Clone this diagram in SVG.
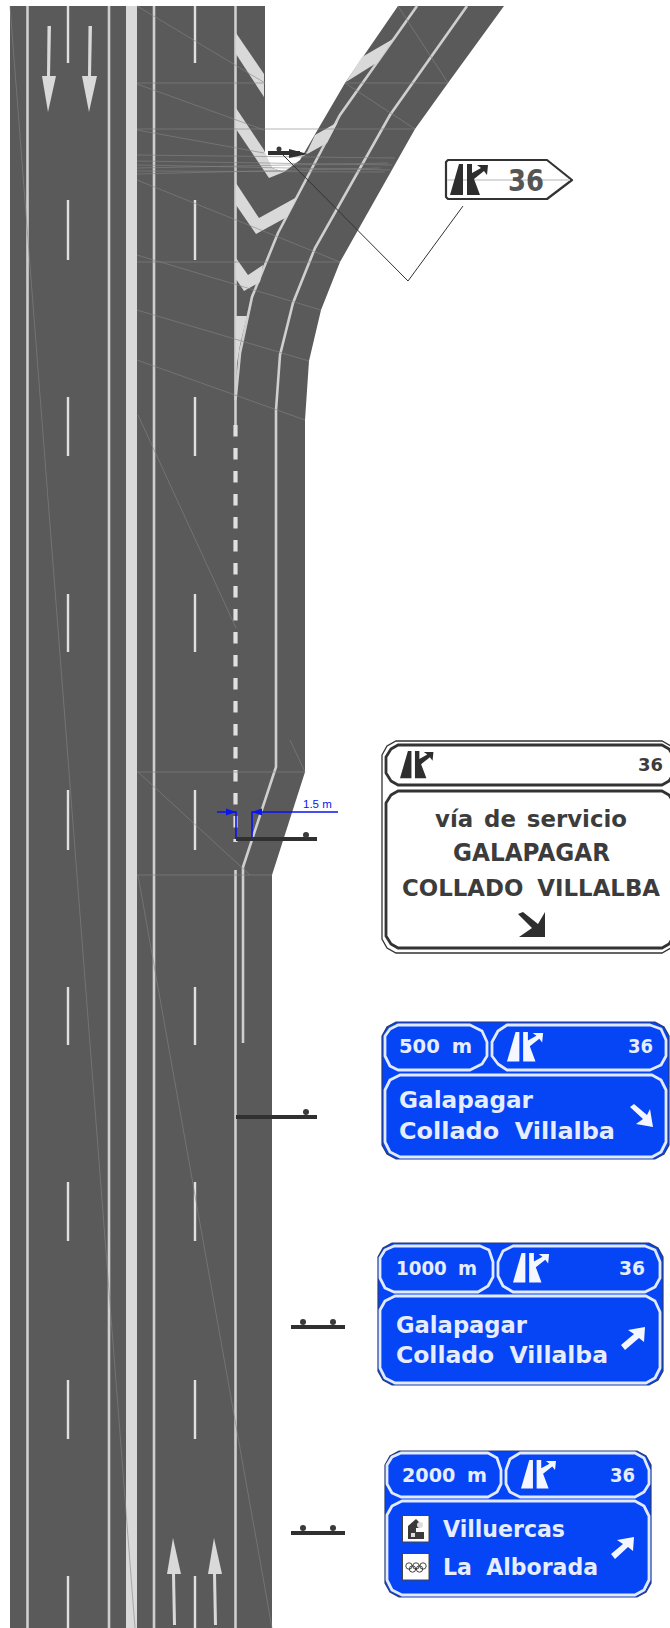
<svg xmlns="http://www.w3.org/2000/svg" width="670" height="1628" viewBox="0 0 670 1628">
<style>
.road{fill:#5a5a5a}
.mk{fill:none;stroke:#cfcfcf;stroke-width:2.6}
.dash{fill:none;stroke:#e0e0e0;stroke-width:2.4}
.paint{fill:#d9d9d9}
.fa{fill:none;stroke:#858585;stroke-width:.6}
.bar{stroke:#303030;stroke-width:4;fill:none}
.dot{fill:#3a3a3a}
.blue{fill:#0545f5;stroke:#2a3a70;stroke-width:1.2}
.pb{fill:none;stroke:#e2eaff;stroke-width:2.8;stroke-linejoin:round}
.wo{fill:#fff;stroke:#333;stroke-width:1.3}
.pw{fill:none;stroke:#333;stroke-width:2.8;stroke-linejoin:round}
.t{font-family:"DejaVu Sans","Liberation Sans",sans-serif;font-weight:700}
.tb{fill:#e6edff}
.td{fill:#3c3c3c}
.dim{fill:none;stroke:#0a14f0;stroke-width:1.6}
.dh{fill:#0a14f0}
.lead{fill:none;stroke:#333;stroke-width:1}
</style>
<defs>
<g id="ic"><polygon points="0,31 13,31 13,0 9,0"/><polygon points="17,0 22,0 22,9 31,4 27,1 38,1 37,11 34,7 24,15 30,31 17,31"/></g>
</defs>
<g id="road">
<polygon class="road" points="10,6 265,6 265,155 272,168 284,172 300,160 345,83 398,6 504,6 448,83 415,129 340,262 321,310 309,361 305,420 305,772 272,875 272,1628 10,1628"/>
<rect class="paint" x="126" y="6" width="11" height="1622"/>
<g class="mk"><path d="M27.500 6V1628M109 6V1628M154 6V1628M235.500 6V425M235.500 870V1628"/>
<path d="M417 6L340 115L278 233L252 297L240 353L235.500 400"/>
<path d="M467 6L390 115L315 248L293 303L280 355L276 410V767L243 867V1043"/></g>
<path class="dash" stroke-dasharray="11.500 11.500" style="stroke-width:4.200" d="M235.500 425V842"/>
<path class="dash" d="M68 6V63M68 200V260M68 397V456M68 594V652M68 790V850M68 987V1045M68 1182V1241M68 1380V1439M68 1576V1628M195 6V63M195 200V260M195 397V456M195 594V652M195 790V850M195 987V1045M195 1182V1241M195 1380V1439M195 1576V1628"/>
<g class="paint">
<polygon points="236,33 264,74 264,97 236,54"/>
<polygon points="393,39 378,62 346,82 362,57"/>
<polygon points="236,108 264,150 272,168 284,172 269,178 236,129"/>
<polygon points="338,122 327,143 300,158 307,152 315,135"/>
<polygon points="236,183 259,218 297,197 287,217 256,234 236,205"/>
<polygon points="236,258 248,275 263,265 260,282 244,291 236,279"/>
<polygon points="236,316 247,316 240,345 236,370"/>
<polygon points="42,76 56,76 48,112"/><polygon points="82,76 97,76 89,112"/>
<polygon points="47.500,26 51,26 50,76 47,76"/><polygon points="88.500,26 92,26 91,76 88,76"/>
<polygon points="173,1538 167,1574 181,1574"/><polygon points="214,1538 208,1574 222,1574"/>
<polygon points="172,1574 175,1574 176,1625 173,1625"/><polygon points="213,1574 216,1574 217,1625 214,1625"/>
</g>
<g class="fa">
<path d="M137 83H265M345 83H448M137 129H415M137 262H340M137 772H305M137 875H272"/>
<path d="M137 6L265 83M137 84L264 130M137 130L264 153M137 180L340 262M137 255L321 310M137 310L309 361M137 360L305 420M138 415L236 628M138 772L250 875M138 875L272 1628M10 6L135 1628M398 6L448 83M345 83L415 129M290 740L305 772"/>
<path d="M137 155L395 158M137 161L392 165M137 165L390 170M137 168L388 163M137 171L385 172M137 174L380 168"/>
</g>
</g>
<g id="connectors">
<path class="lead" d="M283 155L408 281L463 206"/>
<path class="dim" d="M217 812H236V839M252 839V812H338"/>
<polygon class="dh" points="236,812 226,808.500 226,815.500"/>
<polygon class="dh" points="252,812 262,808.500 262,815.500"/>
<text x="303" y="808" font-family="Liberation Sans,sans-serif" font-size="11.500" fill="#0a14f0">1.5 m</text>
</g>
<g id="post-1"><path class="bar" d="M268 153H300"/><polygon fill="#303030" points="289,149 289,158 308,154"/><circle class="dot" cx="279" cy="149" r="2.500"/></g>
<g id="post-2"><path class="bar" d="M236 839H317"/><circle class="dot" cx="306" cy="835" r="3"/></g>
<g id="post-3"><path class="bar" d="M236 1117H317"/><circle class="dot" cx="306" cy="1112" r="3"/></g>
<g id="post-4"><path class="bar" d="M291 1327H345"/><circle class="dot" cx="303" cy="1322" r="3"/><circle class="dot" cx="333" cy="1322" r="3"/></g>
<g id="post-5"><path class="bar" d="M291 1533H345"/><circle class="dot" cx="303" cy="1528" r="3"/><circle class="dot" cx="333" cy="1528" r="3"/></g>
<g id="sign-small">
<polygon fill="#fff" stroke="#333" stroke-width="2.200" stroke-linejoin="round" points="448,160 547,160 572,180 547,199 448,199 446,197 446,162"/>
<path stroke="#ccc" stroke-width="1.500" d="M447 180H570"/>
<use href="#ic" x="450" y="164" fill="#2e2e2e"/>
<text class="t" x="508" y="191" font-size="30" fill="#555" textLength="36" lengthAdjust="spacingAndGlyphs">36</text>
</g>
<g id="sign-white">
<polygon class="wo" points="382,755 387,746 396,741 662,741 671,746 676,755 676,939 671,948 662,953 396,953 387,948 382,939"/>
<polygon class="pw" points="386,757 391,749 398,745 662,745 669,749 674,757 674,773 669,781 662,785 398,785 391,781 386,773"/>
<polygon class="pw" points="386,803 391,795 398,791 662,791 669,795 674,803 674,936 669,944 662,948 398,948 391,944 386,936"/>
<use href="#ic" transform="translate(400 751) scale(.88)" fill="#2e2e2e"/>
<text class="t td" x="638" y="771" font-size="18" textLength="25" lengthAdjust="spacingAndGlyphs">36</text>
<text class="t td" x="435" y="827" font-size="23" style="word-spacing:3px" textLength="192" lengthAdjust="spacingAndGlyphs">vía de servicio</text>
<text class="t td" x="453" y="861" font-size="24" textLength="157" lengthAdjust="spacingAndGlyphs">GALAPAGAR</text>
<text class="t td" x="402" y="896" font-size="23" style="word-spacing:6px" textLength="258" lengthAdjust="spacingAndGlyphs">COLLADO VILLALBA</text>
<polygon fill="#2e2e2e" points="518,914 523,912 538,924 545,912 545,937 519,937 532,928"/>
</g>
<g id="sign-500">
<polygon class="blue" points="382,1036 387,1027 396,1022 655,1022 664,1027 669,1036 669,1145 664,1154 655,1159 396,1159 387,1154 382,1145"/>
<polygon class="pb" points="385,1036 390,1029 398,1025 470,1025 482,1031 487,1042 487,1056 482,1064 470,1070 398,1070 390,1066 385,1056"/>
<polygon class="pb" points="492,1042 498,1031 507,1025 650,1025 661,1029 666,1040 666,1056 661,1065 650,1070 507,1070 498,1064 492,1056"/>
<polygon class="pb" points="385,1090 390,1080 400,1075 652,1075 661,1080 666,1090 666,1142 661,1152 652,1157 400,1157 390,1152 385,1142"/>
<use href="#ic" transform="translate(507 1032) scale(.95)" fill="#f4f7ff"/>
<text class="t tb" x="399" y="1053" font-size="19" style="word-spacing:5px" textLength="73" lengthAdjust="spacingAndGlyphs">500 m</text>
<text class="t tb" x="628" y="1053" font-size="19" textLength="25" lengthAdjust="spacingAndGlyphs">36</text>
<text class="t tb" x="399" y="1108" font-size="23" textLength="134" lengthAdjust="spacingAndGlyphs">Galapagar</text>
<text class="t tb" x="399" y="1139" font-size="23" style="word-spacing:7px" textLength="216" lengthAdjust="spacingAndGlyphs">Collado Villalba</text>
<polygon fill="#f4f7ff" points="630,1107 634,1104 647,1115 650,1109 653,1127 636,1124 643,1119"/>
</g>
<g id="sign-1000">
<polygon class="blue" points="378,1257 383,1248 392,1243 649,1243 658,1248 663,1257 663,1371 658,1380 649,1385 392,1385 383,1380 378,1371"/>
<polygon class="pb" points="380,1258 385,1250 394,1246 480,1246 489,1250 493,1262 493,1277 488,1286 478,1292 394,1292 385,1288 380,1278"/>
<polygon class="pb" points="498,1262 503,1251 513,1246 645,1246 655,1250 660,1262 660,1278 655,1287 645,1292 513,1292 503,1286 498,1276"/>
<polygon class="pb" points="380,1310 385,1301 395,1296 646,1296 655,1301 660,1312 660,1368 655,1378 646,1383 395,1383 385,1378 380,1368"/>
<use href="#ic" transform="translate(513 1253) scale(.95)" fill="#f4f7ff"/>
<text class="t tb" x="396" y="1275" font-size="19" style="word-spacing:5px" textLength="81" lengthAdjust="spacingAndGlyphs">1000 m</text>
<text class="t tb" x="619" y="1275" font-size="19" textLength="26" lengthAdjust="spacingAndGlyphs">36</text>
<text class="t tb" x="396" y="1333" font-size="23" textLength="131" lengthAdjust="spacingAndGlyphs">Galapagar</text>
<text class="t tb" x="396" y="1363" font-size="23" style="word-spacing:7px" textLength="212" lengthAdjust="spacingAndGlyphs">Collado Villalba</text>
<polygon fill="#f4f7ff" points="621,1345 625,1350 639,1338 644,1342 645,1327 628,1330 634,1334"/>
</g>
<g id="sign-2000">
<polygon class="blue" points="385,1465 390,1456 399,1451 637,1451 646,1456 651,1465 651,1583 646,1592 637,1597 399,1597 390,1592 385,1583"/>
<polygon class="pb" points="387,1465 392,1457 401,1453 488,1453 497,1458 501,1470 501,1484 497,1492 488,1497 401,1497 392,1493 387,1484"/>
<polygon class="pb" points="506,1470 510,1459 520,1453 635,1453 644,1458 649,1470 649,1484 644,1492 635,1497 520,1497 510,1492 506,1484"/>
<polygon class="pb" points="387,1515 392,1506 402,1501 635,1501 644,1506 649,1516 649,1580 644,1590 635,1595 402,1595 392,1590 387,1580"/>
<use href="#ic" transform="translate(521 1460) scale(.92)" fill="#f4f7ff"/>
<text class="t tb" x="402" y="1482" font-size="19" style="word-spacing:5px" textLength="85" lengthAdjust="spacingAndGlyphs">2000 m</text>
<text class="t tb" x="610" y="1482" font-size="19" textLength="25" lengthAdjust="spacingAndGlyphs">36</text>
<rect x="402.500" y="1515.500" width="26.500" height="26.500" fill="#fff" stroke="#444"/>
<path fill="#3a3a3a" d="M408 1539V1526L416 1519L421 1524L419 1528H416V1532H424V1539Z"/>
<rect x="411" y="1533" width="4" height="4" fill="#ddd"/>
<circle cx="420" cy="1525" r="3" fill="#ddd"/>
<rect x="402.500" y="1553.500" width="26.500" height="26.500" fill="#fff" stroke="#444"/>
<g fill="none" stroke="#333" stroke-width=".9"><circle cx="409" cy="1566" r="3.200"/><circle cx="416" cy="1566" r="3.200"/><circle cx="423" cy="1566" r="3.200"/><circle cx="412.500" cy="1569" r="3.200"/><circle cx="419.500" cy="1569" r="3.200"/></g>
<text class="t tb" x="443" y="1537" font-size="23" textLength="122" lengthAdjust="spacingAndGlyphs">Villuercas</text>
<text class="t tb" x="443" y="1575" font-size="23" style="word-spacing:7px" textLength="155" lengthAdjust="spacingAndGlyphs">La Alborada</text>
<polygon fill="#f4f7ff" points="611,1554 615,1559 628,1547 633,1551 634,1537 617,1540 623,1544"/>
</g>
</svg>
